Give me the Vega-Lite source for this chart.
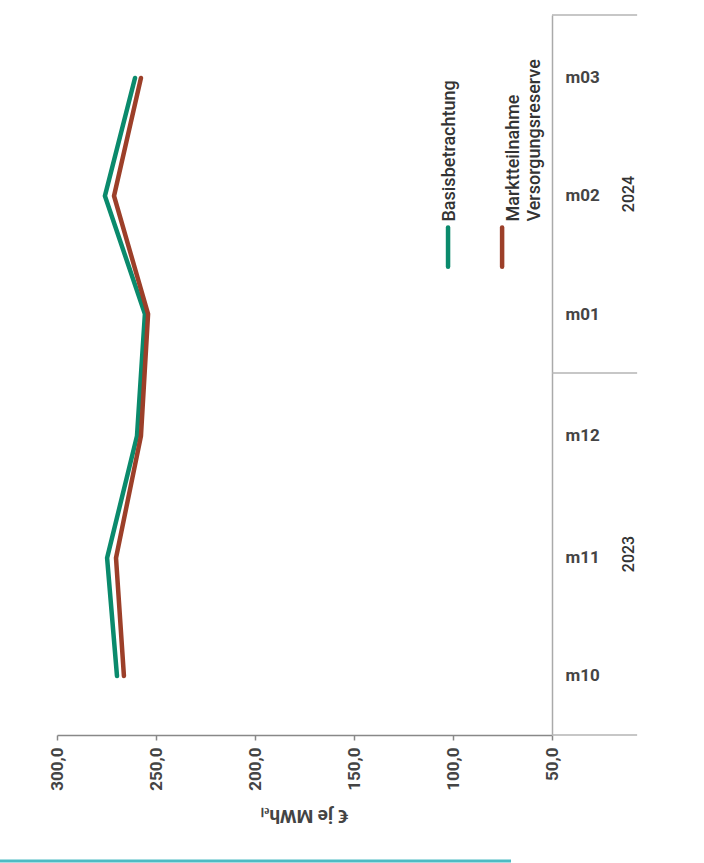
{
  "$schema": "https://vega.github.io/schema/vega-lite/v6.json",
  "width": 495,
  "height": 720,
  "autosize": {"type": "none"},
  "padding": {"left": 57, "top": 15, "right": 152, "bottom": 128},
  "background": "white",
  "config": {"view": {"stroke": null}, "font": "Roboto"},
  "datasets": {
    "prices": [
      {"month": "2023-10-16", "series": "Basisbetrachtung", "value": 269.7},
      {"month": "2023-11-15", "series": "Basisbetrachtung", "value": 274.7},
      {"month": "2023-12-16", "series": "Basisbetrachtung", "value": 259.6},
      {"month": "2024-01-16", "series": "Basisbetrachtung", "value": 255.6},
      {"month": "2024-02-15", "series": "Basisbetrachtung", "value": 275.8},
      {"month": "2024-03-16", "series": "Basisbetrachtung", "value": 260.6},
      {"month": "2023-10-16", "series": "Marktteilnahme Versorgungsreserve", "value": 266.2},
      {"month": "2023-11-15", "series": "Marktteilnahme Versorgungsreserve", "value": 270.2},
      {"month": "2023-12-16", "series": "Marktteilnahme Versorgungsreserve", "value": 257.6},
      {"month": "2024-01-16", "series": "Marktteilnahme Versorgungsreserve", "value": 254.0},
      {"month": "2024-02-15", "series": "Marktteilnahme Versorgungsreserve", "value": 271.2},
      {"month": "2024-03-16", "series": "Marktteilnahme Versorgungsreserve", "value": 257.6}
    ],
    "yearBounds": [
      {"date": "2023-10-01"},
      {"date": "2024-01-01"},
      {"date": "2024-04-01"}
    ],
    "years": [
      {"year": "2023", "mid": "2023-11-16"},
      {"year": "2024", "mid": "2024-02-15T12:00:00Z"}
    ],
    "one": [{}]
  },
  "layer": [
    {
      "data": {"name": "yearBounds"},
      "mark": {"type": "rule", "color": "#b5b5b5", "strokeWidth": 1.5},
      "encoding": {
        "y": {"field": "date", "type": "temporal"},
        "x": {"datum": 50},
        "x2": {"datum": 7}
      }
    },
    {
      "data": {"name": "years"},
      "mark": {"type": "text", "angle": 270, "align": "center", "baseline": "middle", "fontSize": 16, "fontWeight": 500, "color": "#333333"},
      "encoding": {
        "y": {"field": "mid", "type": "temporal"},
        "x": {"datum": 11},
        "text": {"field": "year"}
      }
    },
    {
      "data": {"name": "prices"},
      "mark": {"type": "line", "strokeWidth": 4.5, "strokeCap": "round", "strokeJoin": "miter"},
      "encoding": {
        "y": {
          "field": "month",
          "type": "temporal",
          "scale": {
            "type": "utc",
            "domain": [
              {"year": 2023, "month": 10, "date": 1, "utc": true},
              {"year": 2024, "month": 4, "date": 1, "utc": true}
            ],
            "nice": false
          },
          "axis": {
            "orient": "right",
            "title": null,
            "grid": false,
            "ticks": false,
            "domainColor": "#aaaaaa",
            "domainWidth": 1.5,
            "labelPadding": 13,
            "labelFontSize": 17,
            "labelFontWeight": "bold",
            "labelColor": "#444444",
            "labelAlign": "left",
            "labelExpr": "'m' + utcFormat(datum.value, '%m')",
            "values": [
              {"year": 2023, "month": 10, "date": 16, "utc": true},
              {"year": 2023, "month": 11, "date": 15, "utc": true},
              {"year": 2023, "month": 12, "date": 16, "utc": true},
              {"year": 2024, "month": 1, "date": 16, "utc": true},
              {"year": 2024, "month": 2, "date": 15, "utc": true},
              {"year": 2024, "month": 3, "date": 16, "utc": true}
            ]
          }
        },
        "x": {
          "field": "value",
          "type": "quantitative",
          "scale": {"domain": [50, 300], "reverse": true, "nice": false, "zero": false},
          "axis": {
            "orient": "bottom",
            "values": [50, 100, 150, 200, 250, 300],
            "labelExpr": "replace(format(datum.value, '.1f'), '.', ',')",
            "labelAngle": 270,
            "labelFontSize": 17,
            "labelFontWeight": "bold",
            "labelColor": "#444444",
            "labelPadding": 7,
            "tickSize": 5,
            "tickColor": "#888888",
            "tickWidth": 1.5,
            "domainColor": "#888888",
            "domainWidth": 1.5,
            "grid": false,
            "title": "€ je MWhₑₗ",
            "titleAngle": 180,
            "titleFontSize": 19,
            "titleFontWeight": "bold",
            "titleColor": "#444444",
            "titlePadding": 34
          }
        },
        "color": {
          "field": "series",
          "type": "nominal",
          "scale": {
            "domain": ["Basisbetrachtung", "Marktteilnahme Versorgungsreserve"],
            "range": ["#0a8a6c", "#9c3f29"]
          },
          "legend": null
        },
        "detail": {"field": "series"}
      }
    },
    {
      "data": {"name": "one"},
      "mark": {"type": "rule", "color": "#0a8a6c", "strokeWidth": 4.5, "strokeCap": "round"},
      "encoding": {
        "x": {"datum": 102.5},
        "y": {"datum": {"year": 2024, "month": 1, "date": 28, "utc": true}},
        "y2": {"datum": {"year": 2024, "month": 2, "date": 7, "utc": true}}
      }
    },
    {
      "data": {"name": "one"},
      "mark": {"type": "rule", "color": "#9c3f29", "strokeWidth": 4.5, "strokeCap": "round"},
      "encoding": {
        "x": {"datum": 75.2},
        "y": {"datum": {"year": 2024, "month": 1, "date": 28, "utc": true}},
        "y2": {"datum": {"year": 2024, "month": 2, "date": 7, "utc": true}}
      }
    },
    {
      "data": {"name": "one"},
      "mark": {"type": "text", "angle": 270, "align": "left", "baseline": "middle", "fontSize": 18, "fontWeight": 500, "color": "#333333", "text": "Basisbetrachtung"},
      "encoding": {
        "x": {"datum": 101.5},
        "y": {"datum": {"year": 2024, "month": 2, "date": 8, "hours": 12, "utc": true}}
      }
    },
    {
      "data": {"name": "one"},
      "mark": {"type": "text", "angle": 270, "align": "left", "baseline": "middle", "fontSize": 18, "fontWeight": 500, "lineHeight": 21, "color": "#333333", "text": ["Marktteilnahme", "Versorgungsreserve"]},
      "encoding": {
        "x": {"datum": 69.0},
        "y": {"datum": {"year": 2024, "month": 2, "date": 8, "hours": 12, "utc": true}}
      }
    },
    {
      "data": {"name": "one"},
      "mark": {"type": "rule", "color": "#4dbbc3", "strokeWidth": 3},
      "encoding": {
        "x": {"datum": 328.8},
        "x2": {"datum": 70.7},
        "y": {"datum": {"year": 2023, "month": 8, "date": 30, "utc": true}}
      }
    }
  ]
}
